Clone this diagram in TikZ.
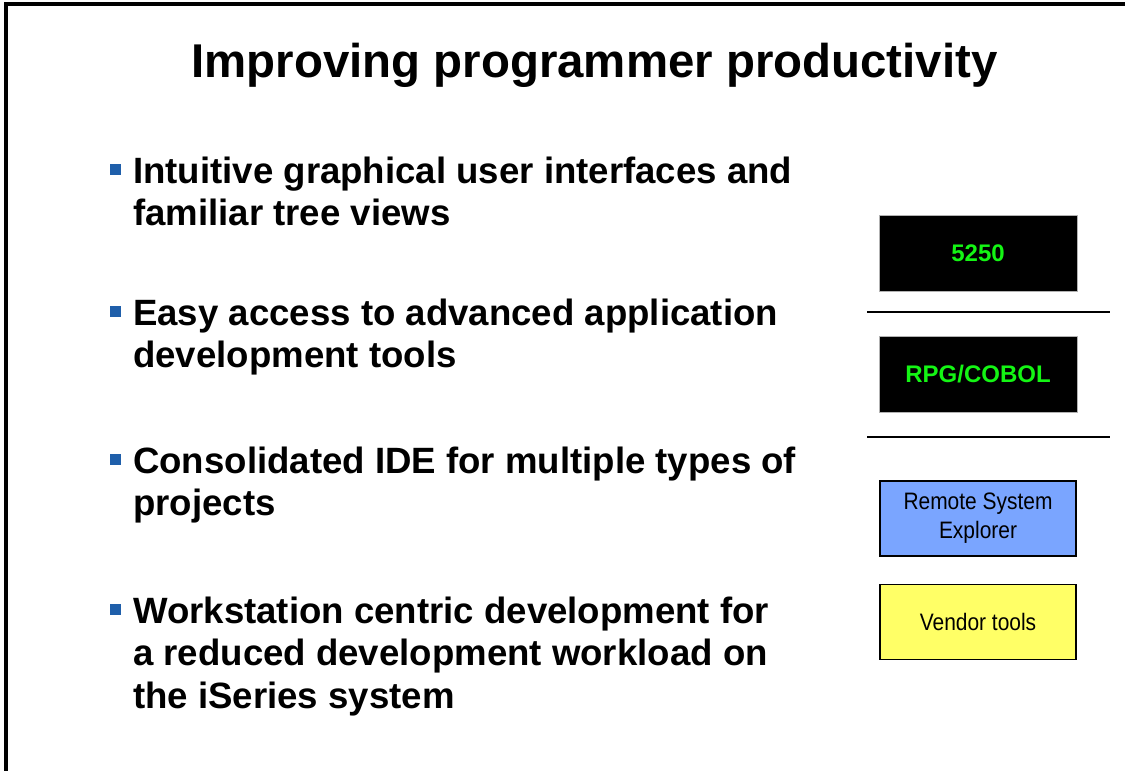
\documentclass[tikz,border=0pt]{standalone}
\usepackage{fontspec}
\setmainfont{Liberation Sans}
\newfontfamily\narrowfont{Liberation Sans}[FakeStretch=0.88]
\definecolor{bulletblue}{RGB}{31,95,170}
\definecolor{termgreen}{RGB}{20,245,20}
\definecolor{rseblue}{RGB}{122,165,255}
\definecolor{vendoryellow}{RGB}{255,255,102}
\newcommand{\bulletlines}[1]{\vtop{\fontsize{36.6}{42.5}\selectfont\bfseries #1}}
\tikzset{
  frameline/.style={line width=4pt},
  sepline/.style={line width=2.5pt},
  bul/.style={fill=bulletblue, minimum size=11pt, inner sep=0pt, anchor=south west},
  btext/.style={anchor=base west, inner sep=0pt},
  termbox/.style={fill=black, draw=gray!60, line width=0.5pt, minimum width=198pt, minimum height=76pt, inner sep=0pt, text=termgreen, font=\fontsize{24}{28}\selectfont\bfseries},
  toolbox/.style={draw=black, line width=1.6pt, minimum width=196pt, minimum height=75pt, inner sep=0pt, align=center, font=\narrowfont\fontsize{23.8}{29}\selectfont}
}
\begin{document}
\begin{tikzpicture}[x=1pt,y=-1pt]
\useasboundingbox (0,0) rectangle (1125,771);
\coordinate (tl) at (6,4);
\coordinate (tr) at (1125,4);
\coordinate (bl) at (6,771);
\draw[frameline] (tr) -- (tl) -- (bl);

\node[anchor=base, inner sep=0pt, font=\fontsize{47.4}{56}\selectfont\bfseries] (title) at (594.5,77) {Improving programmer productivity};

\node[bul] (b1) at (110,175) {};
\node[btext] (t1) at (133,183) {\bulletlines{\hbox{Intuitive graphical user interfaces and}\hbox{familiar tree views}}};
\node[bul] (b2) at (110,317) {};
\node[btext] (t2) at (133,325) {\bulletlines{\hbox{Easy access to advanced application}\hbox{development tools}}};
\node[bul] (b3) at (110,465) {};
\node[btext] (t3) at (133,473) {\bulletlines{\hbox{Consolidated IDE for multiple types of}\hbox{projects}}};
\node[bul] (b4) at (110,615) {};
\node[btext] (t4) at (133,623) {\bulletlines{\hbox{Workstation centric development for}\hbox{a reduced development workload on}\hbox{the iSeries system}}};

\node[termbox] (n5250) at (978,253) {5250};
\coordinate (s1a) at (867,312);
\coordinate (s1b) at (1110,312);
\draw[sepline] (s1a) -- (s1b);
\node[termbox] (rpg) at (978,374) {RPG/COBOL};
\coordinate (s2a) at (867,437);
\coordinate (s2b) at (1110,437);
\draw[sepline] (s2a) -- (s2b);
\node[toolbox, fill=rseblue] (rse) at (978,518.5) {Remote System\\Explorer};
\node[toolbox, fill=vendoryellow] (vendor) at (978,622) {Vendor tools};
\end{tikzpicture}
\end{document}
